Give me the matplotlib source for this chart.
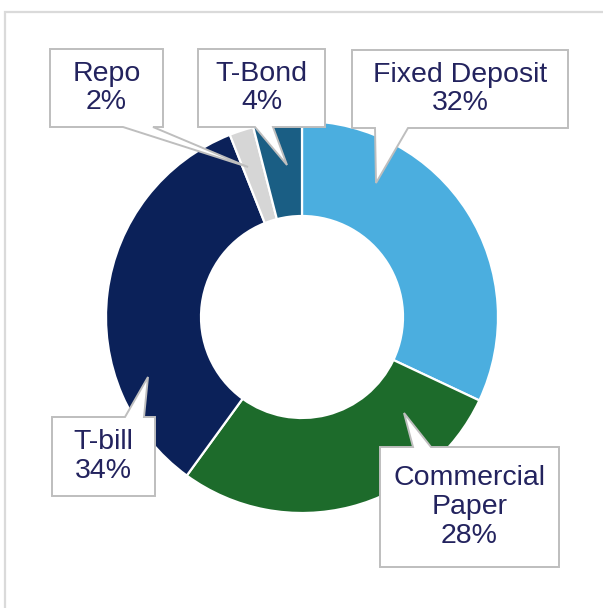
import matplotlib.pyplot as plt
from matplotlib.patches import Polygon

plt.rcParams['font.family'] = ['Liberation Sans', 'DejaVu Sans']

labels  = ['Fixed Deposit', 'Commercial\nPaper', 'T-bill', 'Repo', 'T-Bond']
shares  = [32, 28, 34, 2, 4]
colours = ['#4BAEDF', '#1D6B2B', '#0B2159', '#D6D6D6', '#1A5E84']

# callout boxes in image pixels: (x0, y0, x1, y1), tail side, tail base, tail tip
callouts = [
    ((352, 50, 568, 128), 'bottom', (375, 408), (376, 183)),
    ((380, 447, 559, 567), 'top', (413, 431), (404, 413)),
    ((52, 417, 155, 496), 'top', (125, 144), (148, 377)),
    ((50, 49, 163, 127), 'bottom', (123, 153), (248, 167)),
    ((198, 49, 325, 127), 'bottom', (255, 273), (287, 165)),
]

W, H = 603, 608
fig = plt.figure(figsize=(W / 100, H / 100), dpi=100)
ax = fig.add_axes([0, 0, 1, 1])

def Y(y):
    # image y (down) -> plot y (up)
    return H - y

ax.pie(shares, colors=colours, startangle=90, counterclock=False,
       center=(302, Y(317)), radius=196,
       wedgeprops=dict(width=95, edgecolor='white', linewidth=1.6))

# outer frame (only top and left are visible in the crop)
ax.plot([5, 5, W], [Y(H), Y(12), Y(12)], color='#DADADA', lw=1.6,
        solid_joinstyle='miter', zorder=1)

for (share, lab, (box, side, base, tip)) in zip(shares, labels, callouts):
    x0, y0, x1, y1 = box
    if side == 'bottom':
        pts = [(x0, y0), (x1, y0), (x1, y1), (base[1], y1), tip,
               (base[0], y1), (x0, y1)]
    else:
        pts = [(x0, y0), (base[0], y0), tip, (base[1], y0), (x1, y0),
               (x1, y1), (x0, y1)]
    pts = [(px, Y(py)) for px, py in pts]
    ax.add_patch(Polygon(pts, closed=True, facecolor='white',
                         edgecolor='#BEBEBE', lw=1.4, zorder=5))
    ax.text((x0 + x1) / 2, Y((y0 + y1) / 2), f'{lab}\n{share}%',
            ha='center', va='center', fontsize=20.5, color='#23235E',
            linespacing=1.13, zorder=6)

ax.set_xlim(0, W)
ax.set_ylim(0, H)
ax.set_aspect('equal')
ax.axis('off')

fig.savefig('out.png', dpi=100)
